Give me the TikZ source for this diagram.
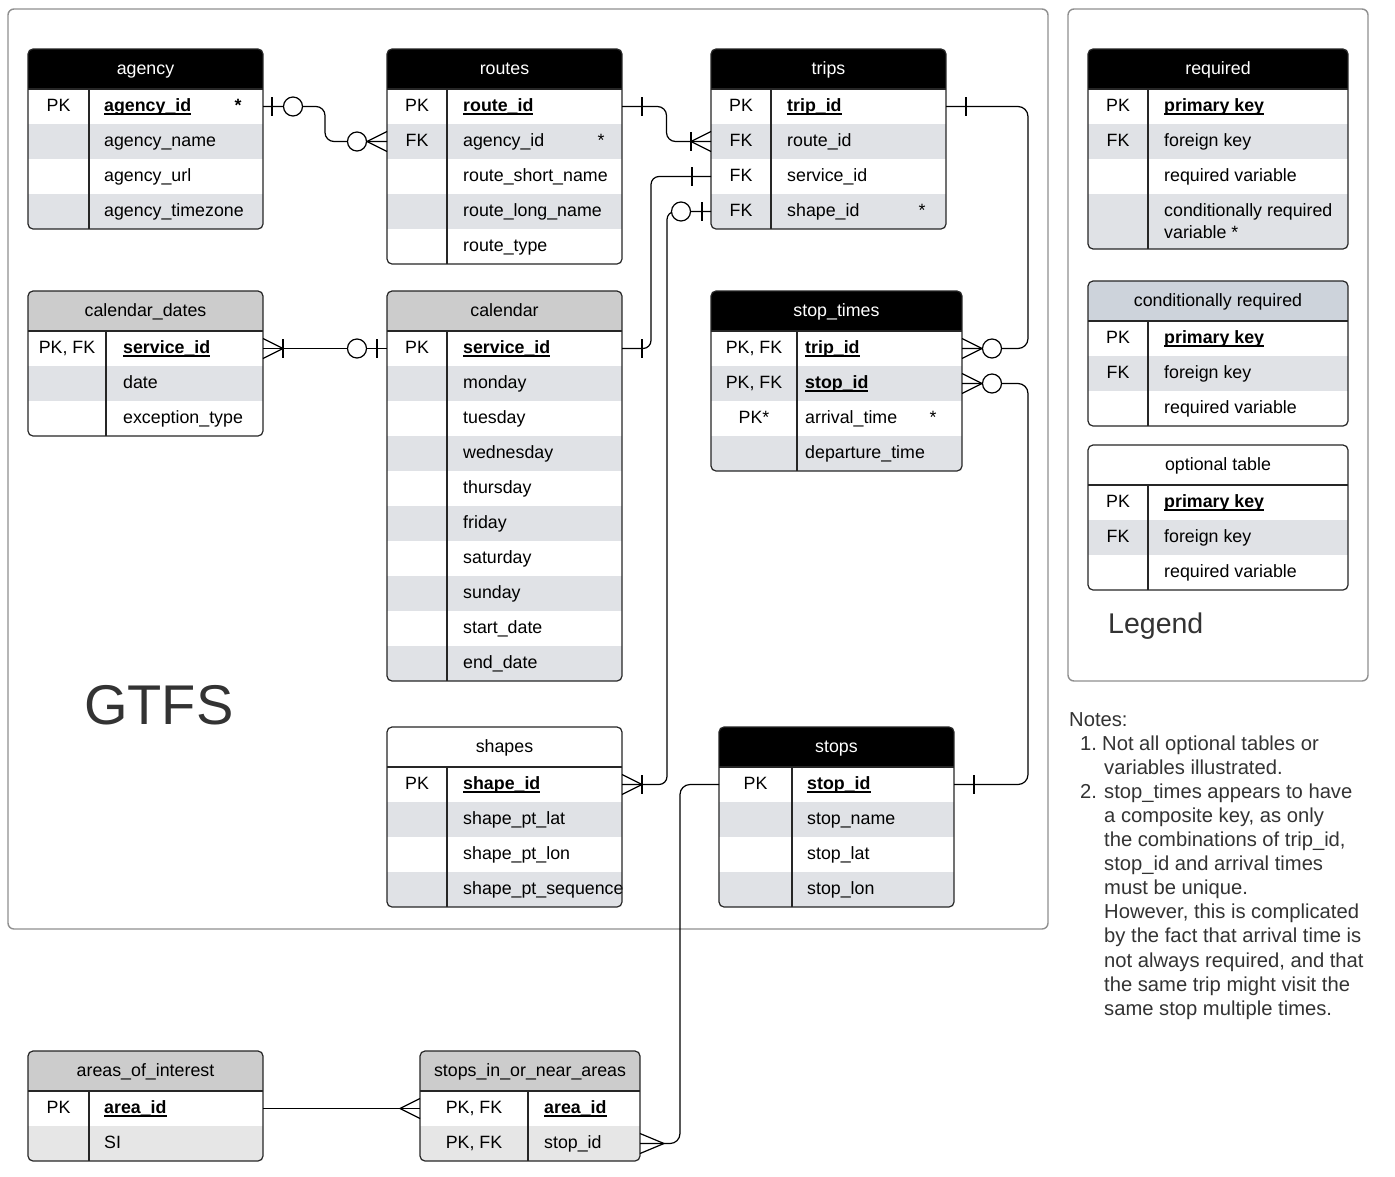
\documentclass[tikz,border=0pt]{standalone}
\usepackage{fontspec}
\setmainfont{Liberation Sans}
\usetikzlibrary{calc}
\definecolor{rowshade}{HTML}{E0E2E6}
\definecolor{rowgray}{HTML}{E6E6E6}
\definecolor{hdrgray}{HTML}{CCCCCC}
\definecolor{hdrblue}{HTML}{CDD3DB}
\definecolor{boxgray}{HTML}{8F8F8F}
\definecolor{txtdark}{HTML}{333333}
\newsavebox\erbox
\newcommand{\erul}[1]{\sbox\erbox{#1}\rlap{\rule[-3pt]{\wd\erbox}{1.3pt}}\usebox\erbox}
\newcommand{\erfont}{\fontsize{17.8}{21}\selectfont}
\def\erfoff{16}
\def\ersoff{24}
\def\errowcolor{rowshade}
\tikzset{
 tborder/.style={draw=black!85, line width=1.2pt},
 rowbox/.style={draw=none, inner sep=0pt, outer sep=0pt, anchor=north west},
 hdrbox/.style={inner sep=0pt, outer sep=0pt, anchor=north west, minimum height=40pt},
 hblack/.style={fill=black, text=white},
 hgray/.style={fill=hdrgray},
 hblue/.style={fill=hdrblue},
 hwhite/.style={fill=white},
 keytext/.style={font=\erfont, inner sep=0pt, anchor=base},
 fieldtext/.style={font=\erfont, inner sep=0pt, anchor=base west},
 hdrtext/.style={font=\erfont, inner sep=0pt, anchor=base},
 conn/.style={line width=1.2pt, draw=black},
 crcl/.style={conn, fill=white},
 outerbox/.style={draw=boxgray, line width=1.4pt, rounded corners=6pt, inner sep=0pt, outer sep=0pt, anchor=north west},
 notetext/.style={font=\fontsize{20.2}{24}\selectfont, text=txtdark, inner sep=0pt, anchor=base west},
}
% #1 name #2 xl #3 xr #4 ytop #5 xdiv #6 header style #7 title #8 rows key/field/star/height
\newcommand{\ertable}[8]{%
 \xdef\erH{0}%
 \foreach \k/\f/\s/\h in {#8}{\pgfmathsetmacro\erT{\erH+\h}\xdef\erH{\erT}}%
 \pgfmathsetmacro\erB{#4+40+\erH}%
 \pgfmathsetmacro\erW{#3-#2}%
 \pgfmathsetmacro\erKX{(#2+#5)/2}%
 \pgfmathsetmacro\erFX{#5+\erfoff}%
 \pgfmathsetmacro\erSX{#3-\ersoff}%
 \pgfmathsetmacro\erCX{(#2+#3)/2}%
 \pgfmathsetmacro\erYi{#4+40}\xdef\erY{\erYi}%
 \begin{scope}
  \clip[rounded corners=5pt] (#2,#4) rectangle (#3,\erB);
  \node[hdrbox, #6, minimum width=\erW pt] (#1-hbox) at (#2,#4) {};
  \foreach \k/\f/\s/\h [count=\i] in {#8}{%
   \ifodd\i\def\erfill{white}\else\edef\erfill{\errowcolor}\fi
   \node[rowbox, fill=\erfill, minimum width=\erW pt, minimum height=\h pt] (#1-\i) at (#2,\erY) {};
   \edef\ertest{\detokenize\expandafter{\k}}%
   \ifx\ertest\empty\else\node[keytext] (#1-\i-k) at (\erKX, \erY+22) {\k};\fi
   \edef\ertest{\detokenize\expandafter{\f}}%
   \ifx\ertest\empty\else\node[fieldtext] (#1-\i-f) at (\erFX, \erY+22.5) {\f};\fi
   \edef\ertest{\detokenize\expandafter{\s}}%
   \ifx\ertest\empty\else\node[keytext] (#1-\i-s) at (\erSX, \erY+22.5) {\s};\fi
   \pgfmathsetmacro\erN{\erY+\h}\xdef\erY{\erN}%
  }
 \end{scope}
 \node[hdrtext, #6] (#1-h) at (\erCX, #4+25.5) {#7};
 \draw[tborder] (#2,#4+40) -- (#3,#4+40);
 \draw[tborder] (#5,#4+40) -- (#5,\erB);
 \draw[tborder, rounded corners=5pt] (#2,#4) rectangle (#3,\erB);
}
\newcommand{\mbar}[2]{\draw[conn] ($(#1)+(#2,-9.5)$) -- ($(#1)+(#2,9.5)$);}
\newcommand{\mcirc}[2]{\draw[crcl] ($(#1)+(#2,0)$) circle[radius=9.5];}
\newcommand{\mcrow}[2]{\draw[conn] ($(#1)+(0,-10)$) -- ($(#1)+(#2,0)$) -- ($(#1)+(0,10)$);}
\begin{document}
\begin{tikzpicture}[x=1pt,y=-1pt]
\useasboundingbox[fill=white] (0,0) rectangle (1395,1176);
\node[outerbox, minimum width=1040pt, minimum height=920pt] (gtfsbox) at (8,9) {};
\node[outerbox, minimum width=300pt, minimum height=672pt] (legendbox) at (1068,9) {};

% ---- tables
\def\erfoff{15}\def\ersoff{25}
\ertable{agency}{28}{263}{49}{89}{hblack}{agency}{PK/\erul{\textbf{agency\_id}}/\textbf{*}/35,{}/agency\_name/{}/35,{}/agency\_url/{}/35,{}/agency\_timezone/{}/35}
\def\erfoff{16}\def\ersoff{21}
\ertable{routes}{387}{622}{49}{447}{hblack}{routes}{PK/\erul{\textbf{route\_id}}/{}/35,FK/agency\_id/*/35,{}/route\_short\_name/{}/35,{}/route\_long\_name/{}/35,{}/route\_type/{}/35}
\def\ersoff{24}
\ertable{trips}{711}{946}{49}{771}{hblack}{trips}{PK/\erul{\textbf{trip\_id}}/{}/35,FK/route\_id/{}/35,FK/service\_id/{}/35,FK/shape\_id/*/35}
\def\erfoff{17}
\ertable{caldates}{28}{263}{291}{106}{hgray}{calendar\_dates}{{PK, FK}/\erul{\textbf{service\_id}}/{}/35,{}/date/{}/35,{}/exception\_type/{}/35}
\def\erfoff{16}
\ertable{calendar}{387}{622}{291}{447}{hgray}{calendar}{PK/\erul{\textbf{service\_id}}/{}/35,{}/monday/{}/35,{}/tuesday/{}/35,{}/wednesday/{}/35,{}/thursday/{}/35,{}/friday/{}/35,{}/saturday/{}/35,{}/sunday/{}/35,{}/start\_date/{}/35,{}/end\_date/{}/35}
\def\erfoff{8}\def\ersoff{29}
\ertable{stoptimes}{711}{962}{291}{797}{hblack}{stop\_times}{{PK, FK}/\erul{\textbf{trip\_id}}/{}/35,{PK, FK}/\erul{\textbf{stop\_id}}/{}/35,PK*/arrival\_time/*/35,{}/departure\_time/{}/35}
\def\erfoff{16}\def\ersoff{24}
\ertable{shapes}{387}{622}{727}{447}{hwhite}{shapes}{PK/\erul{\textbf{shape\_id}}/{}/35,{}/shape\_pt\_lat/{}/35,{}/shape\_pt\_lon/{}/35,{}/shape\_pt\_sequence/{}/35}
\def\erfoff{15}
\ertable{stops}{719}{954}{727}{792}{hblack}{stops}{PK/\erul{\textbf{stop\_id}}/{}/35,{}/stop\_name/{}/35,{}/stop\_lat/{}/35,{}/stop\_lon/{}/35}
\def\errowcolor{rowgray}
\ertable{aoi}{28}{263}{1051}{89}{hgray}{areas\_of\_interest}{PK/\erul{\textbf{area\_id}}/{}/35,{}/SI/{}/35}
\def\erfoff{16}
\ertable{sina}{420}{640}{1051}{528}{hgray}{stops\_in\_or\_near\_areas}{{PK, FK}/\erul{\textbf{area\_id}}/{}/35,{PK, FK}/stop\_id/{}/35}
\def\errowcolor{rowshade}
% legend tables
\ertable{legreq}{1088}{1348}{49}{1148}{hblack}{required}{PK/\erul{\textbf{primary key}}/{}/35,FK/foreign key/{}/35,{}/required variable/{}/35,{}/\vtop{\baselineskip=22pt\hbox{conditionally required}\hbox{variable *}}/{}/55}
\ertable{legcond}{1088}{1348}{281}{1148}{hblue}{conditionally required}{PK/\erul{\textbf{primary key}}/{}/35,FK/foreign key/{}/35,{}/required variable/{}/35}
\ertable{legopt}{1088}{1348}{445}{1148}{hwhite}{optional table}{PK/\erul{\textbf{primary key}}/{}/35,FK/foreign key/{}/35,{}/required variable/{}/35}

% ---- connectors
\draw[conn, rounded corners=9pt] (agency-1.east) -| ($(agency-1.east)!0.5!(routes-2.west)$) |- (routes-2.west);
\draw[conn, rounded corners=9pt] (routes-1.east) -| ($(routes-1.east)!0.5!(trips-2.west)$) |- (trips-2.west);
\draw[conn, rounded corners=8pt] (calendar-1.east) -- ++(29,0) |- (trips-3.west);
\draw[conn, rounded corners=8pt] (shapes-1.east) -- ++(45,0) |- (trips-4.west);
\draw[conn, rounded corners=10pt] (trips-1.east) -- ++(82,0) |- (stoptimes-1.east);
\draw[conn, rounded corners=10pt] (stops-1.east) -- ++(74,0) |- (stoptimes-2.east);
\draw[conn] (caldates-1.east) -- (calendar-1.west);
\draw[conn] (aoi-1.east) -- (sina-1.west);
\draw[conn, rounded corners=10pt] (stops-1.west) -- ++(-39,0) |- (sina-2.east);

% ---- markers
\mbar{agency-1.east}{9}\mcirc{agency-1.east}{30}
\mcrow{routes-2.west}{-20}\mcirc{routes-2.west}{-30}
\mbar{routes-1.east}{20}
\mcrow{trips-2.west}{-20}\mbar{trips-2.west}{-20}
\mbar{calendar-1.east}{20}\mbar{trips-3.west}{-19}
\mcrow{shapes-1.east}{20}\mbar{shapes-1.east}{20}
\mcirc{trips-4.west}{-30}\mbar{trips-4.west}{-9}
\mbar{trips-1.east}{20}
\mcrow{stoptimes-1.east}{20}\mcirc{stoptimes-1.east}{30}
\mbar{stops-1.east}{20}
\mcrow{stoptimes-2.east}{20}\mcirc{stoptimes-2.east}{30}
\mcrow{caldates-1.east}{20}\mbar{caldates-1.east}{20}
\mcirc{calendar-1.west}{-30}\mbar{calendar-1.west}{-10}
\mcrow{sina-1.west}{-20}
\mcrow{sina-2.east}{24}

% ---- titles
\node[font=\fontsize{56}{60}\selectfont, text=txtdark, anchor=base west, inner sep=0pt] (gtfs) at (84,724) {GTFS};
\node[font=\fontsize{28.5}{32}\selectfont, text=txtdark, anchor=base west, inner sep=0pt] (legend) at (1108,633) {Legend};

% ---- notes
\node[notetext] (notes-0) at (1069,726) {Notes:};
\node[notetext] (notes-1n) at (1080,750.1) {1.};
\node[notetext] (notes-1) at (1102,750.1) {Not all optional tables or};
\node[notetext] (notes-2) at (1104,774.2) {variables illustrated.};
\node[notetext] (notes-3n) at (1080,798.3) {2.};
\node[notetext] (notes-3) at (1104,798.3) {stop\_times appears to have};
\node[notetext] (notes-4) at (1104,822.4) {a composite key, as only};
\node[notetext] (notes-5) at (1104,846.5) {the combinations of trip\_id,};
\node[notetext] (notes-6) at (1104,870.6) {stop\_id and arrival times};
\node[notetext] (notes-7) at (1104,894.7) {must be unique.};
\node[notetext] (notes-8) at (1104,918.8) {However, this is complicated};
\node[notetext] (notes-9) at (1104,942.9) {by the fact that arrival time is};
\node[notetext] (notes-10) at (1104,967) {not always required, and that};
\node[notetext] (notes-11) at (1104,991.1) {the same trip might visit the};
\node[notetext] (notes-12) at (1104,1015.2) {same stop multiple times.};
\end{tikzpicture}
\end{document}
